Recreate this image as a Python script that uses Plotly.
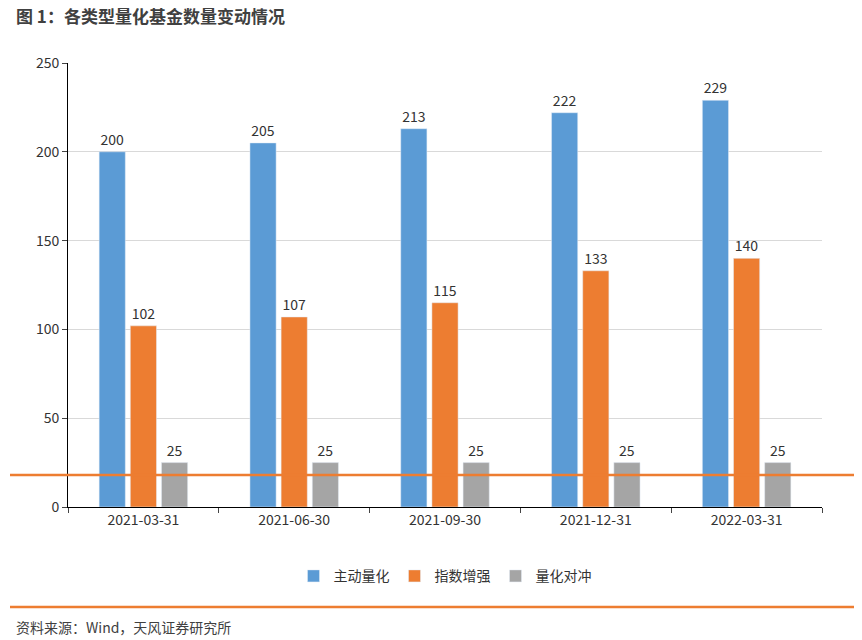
import plotly.graph_objects as go

dates = ["2021-03-31", "2021-06-30", "2021-09-30", "2021-12-31", "2022-03-31"]
active = [200, 205, 213, 222, 229]
index_enh = [102, 107, 115, 133, 140]
hedge = [25, 25, 25, 25, 25]
names = ["主动量化", "指数增强", "量化对冲"]
colors = ["#5B9BD5", "#ED7D31", "#A5A5A5"]

FONT = "Noto Sans CJK SC"
T, B, L, R = 55, 141, 60, 48
PH = 640 - T - B
PW = 862 - L - R
fig = go.Figure()
for n, v, c in zip(names, [active, index_enh, hedge], colors):
    fig.add_bar(x=dates, y=v, name=n, marker_color=c, text=v, textposition="outside",
                textfont=dict(size=14, color="#333333"), cliponaxis=False)

fig.update_layout(
    width=862, height=640, paper_bgcolor="white", plot_bgcolor="white",
    margin=dict(l=L, r=R, t=T, b=B),
    font=dict(family=FONT, size=13, color="#333333"),
    barmode="group", bargap=0.38, bargroupgap=0.16,
    legend=dict(orientation="h", x=0.5, xanchor="center", y=-0.12, yanchor="top",
                font=dict(size=14), itemwidth=30),
    showlegend=True,
)
fig.update_yaxes(range=[0, 250], dtick=50, showgrid=True, gridcolor="#D9D9D9",
                 showline=True, linecolor="black", ticks="outside", ticklen=5,
                 tickfont=dict(size=14), zeroline=False)
fig.update_xaxes(type="category", showline=True, linecolor="black", ticks="outside", ticklen=5,
                 tickson="boundaries", tickfont=dict(size=14))
fig.add_annotation(text="<b>图 1：各类型量化基金数量变动情况</b>", xref="paper", yref="paper",
                   x=-(L-6)/PW, y=1 + 48/PH, xanchor="left", yanchor="middle",
                   showarrow=False, font=dict(size=17, color="#404040"))
fig.add_annotation(text="资料来源：Wind，天风证券研究所", xref="paper", yref="paper",
                   x=-(L-6)/PW, y=-(120)/PH, xanchor="left", yanchor="middle",
                   showarrow=False, font=dict(size=14, color="#404040"))
for dy in [-32, 100]:
    fig.add_shape(type="line", xref="paper", yref="paper",
                  x0=-(L-2)/PW, x1=(858-8-L)/PW, y0=1 - (444+dy)/PH if dy < 0 else -dy/PH,
                  y1=1 - (444+dy)/PH if dy < 0 else -dy/PH,
                  line=dict(color="#ED7D31", width=2.5))
fig.write_html("out.html")
